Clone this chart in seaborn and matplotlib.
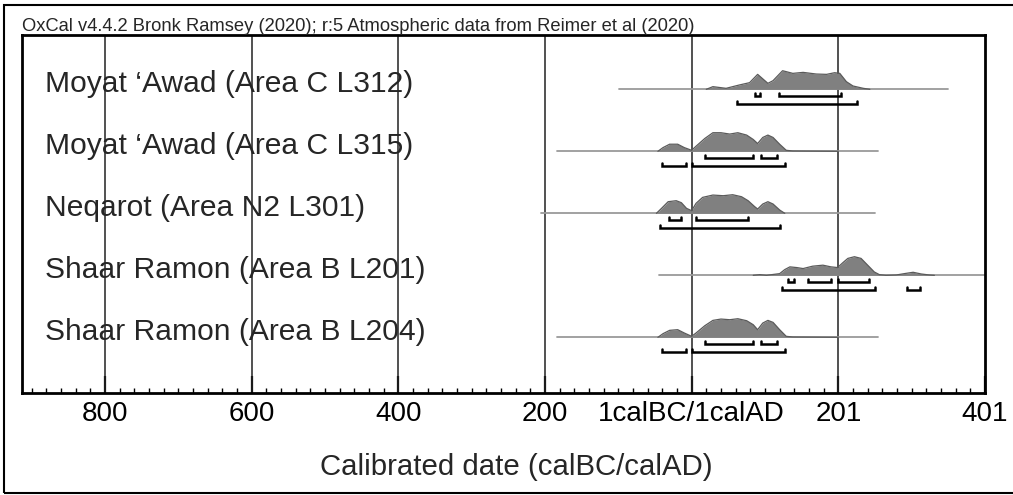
import matplotlib
matplotlib.use("Agg")
import matplotlib.pyplot as plt
import seaborn as sns
import numpy as np
from matplotlib.patches import Rectangle

labels = [
    "Moyat \u2018Awad (Area C L312)",
    "Moyat \u2018Awad (Area C L315)",
    "Neqarot (Area N2 L301)",
    "Shaar Ramon (Area B L201)",
    "Shaar Ramon (Area B L204)",
]

# calendar years, BC negative (0 = 1calBC/1calAD)
line_start = [-99, -184, -205, -45, -184]
line_end = [349, 254, 250, 400, 254]

yrs_1 = [20, 29, 47, 65, 79, 90, 104, 111, 124, 138, 152, 170, 184, 195, 202, 211, 220, 234, 243]
dens_1 = [0, 8, 3, 13, 20, 45, 18, 26, 56, 48, 51, 46, 45, 50, 48, 23, 10, 3, 0]

yrs_2 = [-46, -39, -30, -19, -10, 0, 6, 18, 29, 40, 52, 63, 75, 84, 90, 97, 104, 111, 120, 129, 138, 200]
dens_2 = [0, 11, 21, 21, 11, 3, 15, 38, 55, 55, 51, 55, 48, 35, 23, 41, 48, 41, 21, 3, 1, 0]

yrs_3 = [-48, -41, -32, -21, -14, -7, 0, 6, 15, 29, 43, 56, 68, 77, 86, 90, 97, 104, 111, 120, 127]
dens_3 = [0, 15, 35, 38, 32, 15, 8, 30, 48, 55, 53, 56, 50, 38, 20, 13, 28, 35, 28, 10, 0]

yrs_4 = [84, 93, 102, 120, 127, 134, 143, 152, 165, 179, 190, 199, 206, 213, 222, 231, 240, 249,
         256, 265, 279, 290, 302, 313, 324, 331]
dens_4 = [0, 2, 0, 5, 17, 25, 23, 20, 27, 30, 25, 23, 37, 50, 55, 50, 30, 10,
          2, 0, 1, 5, 9, 4, 1, 0]

yrs_5 = [-46, -39, -30, -19, -10, 0, 6, 18, 29, 40, 52, 63, 75, 84, 90, 97, 104, 111, 120, 129, 138, 200]
dens_5 = [0, 11, 21, 23, 13, 3, 13, 35, 51, 55, 53, 56, 50, 38, 23, 43, 51, 45, 23, 3, 1, 0]

# highest posterior density ranges
r68 = [
    [(87, 93), (119, 204)],
    [(18, 84), (95, 116)],
    [(-31, -15), (6, 77)],
    [(131, 140), (159, 190), (199, 242)],
    [(18, 84), (95, 116)],
]
r95 = [
    [(62, 225)],
    [(-40, -7), (0, 127)],
    [(-43, 120)],
    [(123, 250), (294, 311)],
    [(-40, -7), (0, 127)],
]

tick_pos = [-800, -600, -400, -200, 0, 200, 400]
tick_labels = ["800", "600", "400", "200", "1calBC/1calAD", "201", "401"]

title = "OxCal v4.4.2 Bronk Ramsey (2020); r:5 Atmospheric data from Reimer et al (2020)"

sns.set_style("white")
plt.rcParams["font.family"] = ["Liberation Sans", "DejaVu Sans"]

fig = plt.figure(figsize=(10.13, 4.95), dpi=100)
W, H = 1013, 495
ax = fig.add_axes([22 / W, 1 - 393 / H, 963 / W, 358 / H])

densities = [(yrs_1, dens_1), (yrs_2, dens_2), (yrs_3, dens_3), (yrs_4, dens_4), (yrs_5, dens_5)]
peak = 0.30

for i, (yy, dd) in enumerate(densities):
    ax.plot([line_start[i], line_end[i]], [i, i], color="#9a9a9a", lw=1.3, zorder=2)
    d = np.array(dd, dtype=float)
    top = i - d / d.max() * peak
    ax.fill_between(yy, i, top, color="#808080", lw=0, zorder=3)
    sns.lineplot(x=yy, y=top, ax=ax, color="#5a5a5a", lw=0.9, zorder=4, sort=False)
    for off, ranges in ((0.113, r68[i]), (0.232, r95[i])):
        for a, b in ranges:
            yb = i + off
            ax.plot([a, a, b, b], [yb - 0.05, yb, yb, yb - 0.05], color="black",
                    lw=1.8, solid_joinstyle="miter", zorder=5)
    ax.text(-881, i + 0.045, labels[i], fontsize=21.6, va="baseline", ha="left", zorder=6)

ax.set_xlim(-913, 400)
ax.set_ylim(4.898, -0.876)
ax.set_yticks([])
ax.set_xticks(tick_pos)
ax.set_xticklabels(tick_labels)
ax.set_xticks(np.arange(-900, 400, 20), minor=True)
ax.tick_params(axis="x", which="major", direction="in", length=12, width=1.6,
               labelsize=20, pad=6, bottom=True, colors="black")
ax.tick_params(axis="x", which="minor", direction="in", length=3.5, width=1,
               bottom=True, colors="black")
for p in tick_pos[:-1]:
    ax.axvline(p, color="#222222", lw=1.1, zorder=1)
for s in ax.spines.values():
    s.set_color("black")
    s.set_linewidth(2)
    s.set_visible(True)

ax.set_xlabel("Calibrated date (calBC/calAD)", fontsize=21.2)
ax.xaxis.set_label_coords((516 - 22) / 963, (393 - 467) / 358)
ax.xaxis.label.set_va("center")

fig.text(22 / W, 1 - 31 / H, title, fontsize=13.2, ha="left", va="baseline")
fig.patches.append(Rectangle((4 / W, 2 / H), 1.2, 1 - 7 / H, transform=fig.transFigure,
                             fill=False, edgecolor="black", lw=1.5))

fig.savefig("out.png", dpi=100)
